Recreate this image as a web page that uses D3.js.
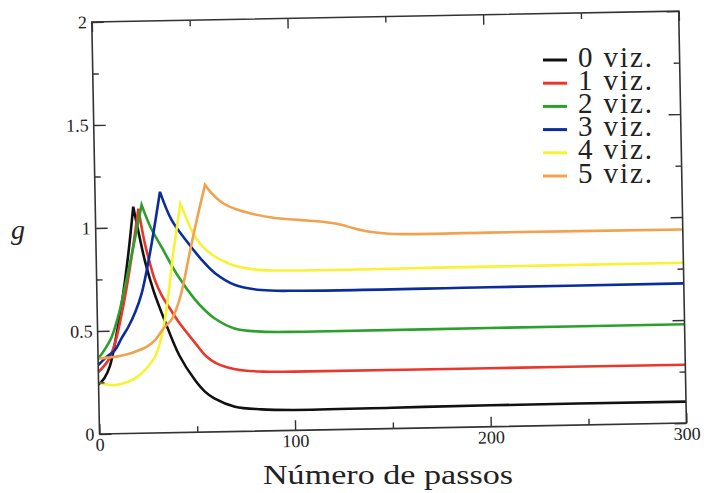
<!DOCTYPE html>
<html>
<head>
<meta charset="utf-8">
<script src="https://cdn.jsdelivr.net/npm/d3@7"></script>
<style>
  html, body { margin: 0; padding: 0; background: #fff; }
  svg { display: block; }
  text { font-family: "Liberation Serif", "DejaVu Serif", serif; fill: #222; }
</style>
</head>
<body>
<svg id="chart" width="704" height="493"></svg>
<script>
// g versus number of steps, one curve per neighbour count: [step, g]
const viz0 = [[0,0.24],[3,0.27],[6,0.33],[9,0.45],[12.6,0.63],[16.5,0.875],[19.4,1.10],
              [22,0.97],[25,0.83],[29,0.69],[34,0.555],[41.5,0.375],[49.3,0.253],[54.3,0.196],
              [59,0.162],[69.5,0.12],[83,0.105],[100,0.099],[150,0.101],[200,0.104],[300,0.104]];
const viz1 = [[0,0.30],[5.2,0.357],[8.8,0.44],[12,0.56],[15.3,0.71],[18.5,0.88],[22,1.09],
              [25,0.92],[27.4,0.824],[29.8,0.742],[33,0.67],[37,0.605],[42,0.53],[50,0.43],
              [55,0.37],[60,0.335],[70,0.302],[84,0.288],[100,0.285],[200,0.284],[300,0.283]];
const viz2 = [[0,0.365],[3.5,0.41],[7.2,0.471],[11,0.58],[14.4,0.713],[19.1,0.906],[23.7,1.108],
              [28,1.0],[33.6,0.90],[41.8,0.757],[50,0.645],[55,0.592],[60,0.55],[70,0.50],
              [84,0.482],[105,0.478],[200,0.479],[300,0.48]];
const viz3 = [[0,0.335],[4,0.37],[8.7,0.406],[12,0.46],[15.8,0.518],[19.5,0.59],[22.9,0.679],
              [27.5,0.873],[33.2,1.17],[39,1.03],[47,0.92],[50.5,0.876],[54,0.835],[60.6,0.77],
              [70.7,0.711],[84,0.684],[105,0.677],[200,0.677],[300,0.678]];
const viz4 = [[0,0.25],[4,0.24],[8.4,0.236],[15.2,0.251],[20,0.275],[23.9,0.307],[29.1,0.37],
              [33,0.48],[36.4,0.66],[39.4,0.87],[43.5,1.11],[46,1.05],[49,0.98],[51,0.945],
              [55,0.895],[60,0.855],[65,0.828],[70,0.807],[80,0.786],[90,0.778],[200,0.777],[300,0.778]];
const viz5 = [[0,0.365],[5,0.37],[10,0.375],[15,0.385],[19,0.396],[25,0.42],[29.3,0.451],
              [34,0.51],[38,0.55],[42,0.64],[45,0.75],[48,0.88],[52,1.04],[56.3,1.20],
              [59,1.165],[62,1.135],[66,1.105],[72,1.078],[80,1.055],[90,1.035],[105,1.02],[116,1.01],
              [125,0.995],[132,0.975],[140,0.957],[150,0.946],[160,0.942],[200,0.942],[300,0.94]];

const seriesData = [viz0, viz1, viz2, viz3, viz4, viz5];
const legendLabels = ["0 viz.", "1 viz.", "2 viz.", "3 viz.", "4 viz.", "5 viz."];
const seriesColors = ["#111111", "#e8372c", "#2ca02c", "#0b2d9c", "#f7f235", "#f2a24e"];

const xMajorTicks = [0, 100, 200, 300];
const xMinorTicks = [50, 150, 250];
const yMajorTicks = [0, 0.5, 1, 1.5, 2];
const yMinorTicks = [0.25, 0.75, 1.25, 1.75];

const W = 587, H = 412;
const svg = d3.select("#chart");

const x = d3.scaleLinear().domain([0, 300]).range([0, W]);
const y = d3.scaleLinear().domain([0, 2]).range([0, -H]);

// plot area, slightly tilted as on the printed page
const plot = svg.append("g").attr("transform", "translate(99.5,434) rotate(-1.07)");

// curves: rising and falling parts are smoothed separately so the peak stays sharp
const line = d3.line().x(d => x(d[0])).y(d => y(d[1])).curve(d3.curveCatmullRom.alpha(0.5));
seriesData.forEach((pts, i) => {
  const peak = d3.maxIndex(pts, d => d[1]);
  const rise = line(pts.slice(0, peak + 1));
  const fall = line(pts.slice(peak)).replace(/^M[^A-Za-z]*/, "");
  plot.append("path")
    .attr("d", rise + fall)
    .attr("fill", "none")
    .attr("stroke", seriesColors[i])
    .attr("stroke-width", 2.6)
    .attr("stroke-linejoin", "miter");
});

function styleAxis(sel) {
  sel.select(".domain").remove();
  sel.selectAll(".tick line").attr("stroke", "#333").attr("stroke-width", 1.4);
  sel.selectAll(".tick text").style("font-size", "18px")
    .style("font-family", "'Liberation Serif', serif").attr("fill", "#222");
}

// bottom
plot.append("g").call(d3.axisBottom(x).tickValues(xMajorTicks).tickSizeInner(-10).tickSizeOuter(0)
  .tickPadding(4).tickFormat(d3.format("d"))).call(styleAxis);
plot.append("g").call(d3.axisBottom(x).tickValues(xMinorTicks).tickSizeInner(-6).tickSizeOuter(0)
  .tickFormat(() => "")).call(styleAxis);
// top
plot.append("g").attr("transform", `translate(0,${-H})`)
  .call(d3.axisTop(x).tickValues(xMajorTicks).tickSizeInner(-10).tickSizeOuter(0).tickFormat(() => ""))
  .call(styleAxis);
plot.append("g").attr("transform", `translate(0,${-H})`)
  .call(d3.axisTop(x).tickValues(xMinorTicks).tickSizeInner(-6).tickSizeOuter(0).tickFormat(() => ""))
  .call(styleAxis);
// left
plot.append("g").call(d3.axisLeft(y).tickValues(yMajorTicks).tickSizeInner(-12).tickSizeOuter(0)
  .tickPadding(5).tickFormat(d3.format("~g"))).call(styleAxis);
plot.append("g").call(d3.axisLeft(y).tickValues(yMinorTicks).tickSizeInner(-6).tickSizeOuter(0)
  .tickFormat(() => "")).call(styleAxis);
// right
plot.append("g").attr("transform", `translate(${W},0)`)
  .call(d3.axisRight(y).tickValues(yMajorTicks).tickSizeInner(-12).tickSizeOuter(0).tickFormat(() => ""))
  .call(styleAxis);
plot.append("g").attr("transform", `translate(${W},0)`)
  .call(d3.axisRight(y).tickValues(yMinorTicks).tickSizeInner(-6).tickSizeOuter(0).tickFormat(() => ""))
  .call(styleAxis);

// frame
plot.append("rect")
  .attr("x", 0).attr("y", -H).attr("width", W).attr("height", H)
  .attr("fill", "none").attr("stroke", "#333").attr("stroke-width", 1.6);

// legend
const legend = svg.append("g").attr("transform", "translate(543,60)");
legendLabels.forEach((lab, i) => {
  const row = legend.append("g").attr("transform", `translate(0,${i * 23.2})`);
  row.append("line").attr("x1", 0).attr("x2", 24).attr("y1", 0).attr("y2", 0)
    .attr("stroke", seriesColors[i]).attr("stroke-width", 3);
  row.append("text").attr("x", 35).attr("y", 6.5)
    .attr("textLength", 74).attr("lengthAdjust", "spacing")
    .style("font-size", "29px").text(lab);
});

// axis titles
svg.append("text").attr("x", 11).attr("y", 239)
  .style("font-size", "28px").style("font-style", "italic").text("g");
svg.append("text").attr("x", 263).attr("y", 484)
  .attr("textLength", 250).attr("lengthAdjust", "spacingAndGlyphs")
  .style("font-size", "28px").text("Número de passos");
</script>
</body>
</html>
